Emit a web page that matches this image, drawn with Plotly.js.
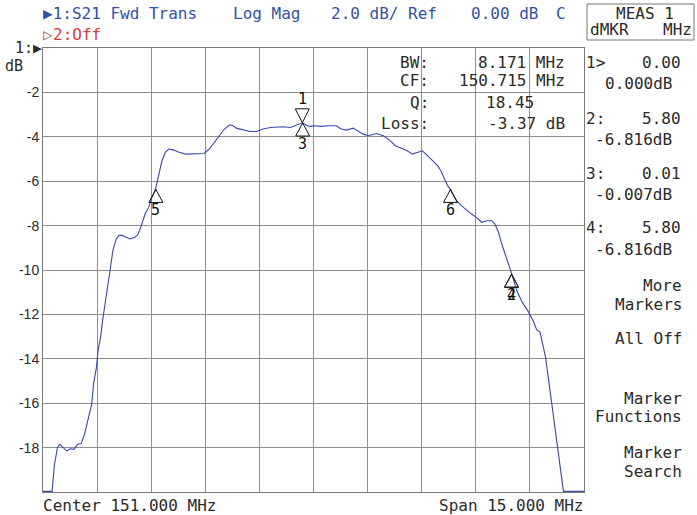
<!DOCTYPE html>
<html><head><meta charset="utf-8">
<script src="https://cdn.plot.ly/plotly-3.0.1.min.js"></script>
<style>html,body{margin:0;padding:0;background:#fff}#chart{width:697px;height:515px}</style>
</head><body><div id="chart"></div>
<script>
// ---- data ----
const freqMHz = [143.50,143.75,143.82,143.90,143.96,144.06,144.16,144.26,144.36,144.46,144.56,144.65,144.75,144.85,144.90,144.98,145.03,145.10,145.15,145.20,145.25,145.30,145.37,145.44,145.53,145.60,145.68,145.77,145.91,146.05,146.14,146.24,146.33,146.43,146.52,146.61,146.71,146.80,146.89,146.99,147.13,147.27,147.46,147.64,147.83,147.97,148.11,148.25,148.39,148.53,148.68,148.77,148.86,149.05,149.24,149.42,149.61,149.80,149.99,150.17,150.36,150.55,150.69,150.83,150.93,151.02,151.21,151.44,151.63,151.77,151.91,152.10,152.24,152.38,152.52,152.66,152.75,152.94,153.13,153.27,153.46,153.60,153.74,153.88,154.02,154.16,154.30,154.44,154.53,154.63,154.72,154.80,154.96,155.10,155.24,155.38,155.52,155.66,155.80,155.94,156.03,156.13,156.22,156.32,156.41,156.50,156.64,156.79,156.94,157.09,157.19,157.28,157.35,157.43,157.51,157.58,157.66,157.73,157.81,157.88,157.93,158.50];
const magDb = [-19.97,-19.97,-18.75,-18.0,-17.85,-18.0,-18.15,-18.05,-18.08,-17.85,-17.82,-17.4,-16.65,-16.05,-15.15,-14.4,-13.6,-13.0,-12.3,-11.7,-11.1,-10.6,-9.9,-9.1,-8.6,-8.45,-8.43,-8.5,-8.6,-8.53,-8.38,-7.93,-7.48,-7.18,-6.73,-6.4,-5.68,-5.08,-4.7,-4.55,-4.6,-4.7,-4.78,-4.78,-4.75,-4.75,-4.55,-4.25,-3.95,-3.65,-3.46,-3.5,-3.61,-3.7,-3.76,-3.76,-3.65,-3.58,-3.55,-3.55,-3.58,-3.46,-3.37,-3.5,-3.53,-3.5,-3.53,-3.5,-3.5,-3.65,-3.7,-3.61,-3.73,-3.88,-3.95,-3.88,-3.85,-3.95,-4.18,-4.4,-4.52,-4.63,-4.78,-4.7,-4.63,-4.85,-5.08,-5.3,-5.53,-5.9,-6.2,-6.4,-6.88,-7.1,-7.3,-7.48,-7.63,-7.85,-7.78,-7.78,-7.93,-8.3,-8.83,-9.3,-9.8,-10.19,-10.95,-11.46,-11.83,-12.29,-12.7,-12.8,-13.3,-13.9,-14.84,-15.74,-16.65,-17.55,-18.45,-19.35,-19.97,-19.97];
const yTickVals = [-2,-4,-6,-8,-10,-12,-14,-16,-18];
const yTickText = ['-2','-4','-6','-8','-10','-12','-14','-16','-18'];
const markerIds = ['1','2','3','4','5','6'];
const markerFreq = [150.69,156.49,150.70,156.49,146.63,154.80];
const markerDb = [-3.37,-10.19,-3.38,-10.19,-6.37,-6.37];
const markerPointsDown = [true,false,false,false,false,false];
const readoutLabels = ['1>','2:','3:','4:'];
const readoutStim = ['0.00','5.80','0.01','5.80'];
const readoutResp = ['0.000dB','-6.816dB','-0.007dB','-6.816dB'];
const filterLabels = ['BW:','CF:','Q:','Loss:'];
const filterValues = ['8.171 MHz','150.715 MHz','18.45','-3.37 dB'];
const menuItems = ['More','Markers','All Off','Marker','Functions','Marker','Search'];

// ---- layout helpers (pixel geometry) ----
const W = 697, H = 515, ML = 43, MR = 113, MT = 48, MB = 23;
const PW = W - ML - MR, PH = H - MT - MB;
const px = x => (x - ML) / PW;
const py = y => (H - MB - y) / PH;
const MONO = 'DejaVu Sans Mono';
function txt(text, x, y, color, anchor, size, font) {
  return {xref:'paper', yref:'paper', x:px(x), y:py(y), text:text, showarrow:false,
    xanchor:anchor || 'left', yanchor:'middle',
    font:{family:font || MONO, size:size || 16, color:color || '#222'}};
}
const BLUE = '#3450a8', RED = '#d43c3c', INK = '#2a2a2a';
const annotations = [];
annotations.push(txt('▶1:S21 Fwd Trans', 41, 14, BLUE));
annotations.push(txt('Log Mag', 231, 14, BLUE));
annotations.push(txt('2.0 dB/ Ref', 329, 14, BLUE));
annotations.push(txt('0.00 dB', 469, 14, BLUE));
annotations.push(txt('C', 554, 14, BLUE));
annotations.push(txt('▷', 41, 35, '#a07070'));
annotations.push(txt('2:Off', 51, 35, RED));
annotations.push(txt('MEAS 1', 645, 13, INK, 'center'));
annotations.push(txt('dMKR', 588, 29, INK));
annotations.push(txt('MHz', 694, 29, INK, 'right'));
annotations.push(txt('1:▶', 44, 48, INK, 'right', 15));
annotations.push(txt('dB', 3, 66, INK, 'left', 15));
annotations.push(txt('Center 151.000 MHz', 41, 506, INK));
annotations.push(txt('Span 15.000 MHz', 586, 506, INK, 'right'));
const filterRows = [62, 80, 103, 123];
filterLabels.forEach((l, i) => annotations.push(txt(l, 431, filterRows[i], INK, 'right')));
filterValues.forEach((v, i) => {
  if (i === 2) annotations.push(txt(v, 484, filterRows[i], INK, 'left'));
  else annotations.push(txt(v, 567, filterRows[i], INK, 'right'));
});
const readRows = [63, 118, 173, 228];
readoutLabels.forEach((l, i) => {
  annotations.push(txt(l, 584, readRows[i], INK));
  annotations.push(txt(readoutStim[i], 683, readRows[i], INK, 'right'));
  annotations.push(txt(readoutResp[i], 674, readRows[i] + 21, INK, 'right'));
});
const menuRows = [285, 304, 338, 398, 416, 452, 471];
menuItems.forEach((m, i) => annotations.push(txt(m, 684, menuRows[i], INK, 'right')));

// markers
const shapes = [];
markerIds.forEach((id, i) => {
  const down = markerPointsDown[i];
  shapes.push({type:'path', xref:'x', yref:'y', xsizemode:'pixel', ysizemode:'pixel',
    xanchor:markerFreq[i], yanchor:markerDb[i],
    path: down ? 'M0,0 L-7,14 L7,14 Z' : 'M0,0 L-7,-13 L7,-13 Z',
    line:{color:'#111', width:1}, fillcolor:'rgba(0,0,0,0)'});
  annotations.push({xref:'x', yref:'y', x:markerFreq[i], y:markerDb[i], text:id, showarrow:false,
    xanchor:'center', yanchor:'middle', yshift: down ? 24 : -21,
    font:{family:MONO, size:15, color:'#111'}});
});
// MEAS box
shapes.push({type:'rect', xref:'paper', yref:'paper', x0:px(587), x1:px(694), y0:py(40), y1:py(4),
  line:{color:'#777', width:1}});

const trace = {x:freqMHz, y:magDb, type:'scatter', mode:'lines',
  line:{color:'#3a48aa', width:1.1}, hoverinfo:'skip'};

const layout = {
  width:W, height:H, margin:{l:ML, r:MR, t:MT, b:MB, pad:0},
  paper_bgcolor:'#fff', plot_bgcolor:'#fff', showlegend:false,
  xaxis:{range:[143.5,158.5], tick0:143.5, dtick:1.5, showticklabels:false, ticks:'',
    showgrid:true, gridcolor:'#8e8e8e', gridwidth:1, zeroline:false,
    showline:true, mirror:true, linecolor:'#7a7a7a', linewidth:1, fixedrange:true},
  yaxis:{range:[-20,0], tickvals:yTickVals, ticktext:yTickText, ticks:'',
    tickfont:{family:'Liberation Sans', size:14, color:INK},
    showgrid:true, gridcolor:'#8e8e8e', gridwidth:1, zeroline:false,
    showline:true, mirror:true, linecolor:'#7a7a7a', linewidth:1, fixedrange:true},
  annotations:annotations, shapes:shapes
};
Plotly.newPlot('chart', [trace], layout, {staticPlot:true, displayModeBar:false});
</script>
</body></html>
